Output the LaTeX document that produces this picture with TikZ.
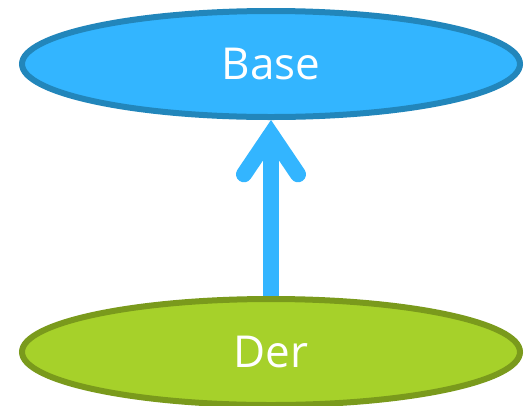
\documentclass[tikz,border=0pt]{standalone}
\usepackage{fontspec}
\setmainfont{Open Sans}
\usetikzlibrary{shapes.geometric}
\usetikzlibrary{arrows.meta}
\definecolor{baseblue}{HTML}{33B5FF}
\definecolor{baseedge}{HTML}{2286BB}
\definecolor{dergreen}{HTML}{A6D12A}
\definecolor{deredge}{HTML}{7A9A1C}
\begin{document}
\begin{tikzpicture}[x=1pt,y=-1pt,
  classnode/.style={ellipse, inner sep=0pt, minimum width=498pt, minimum height=106pt,
    line width=6pt, text=white, font=\fontsize{44}{50}\selectfont},
  inherit/.style={draw=baseblue, line width=16pt,
    -{Straight Barb[line cap=round, line join=miter, length=40pt, width=54pt]}}]
  \useasboundingbox (0,0) rectangle (524,405);

  \node[classnode, fill=baseblue, draw=baseedge] (Base) at (271,64) {Base};
  \node[classnode, fill=dergreen, draw=deredge] (Der) at (271,352) {Der};

  \draw[inherit] (Der.north) -- (Base.south);
\end{tikzpicture}
\end{document}
